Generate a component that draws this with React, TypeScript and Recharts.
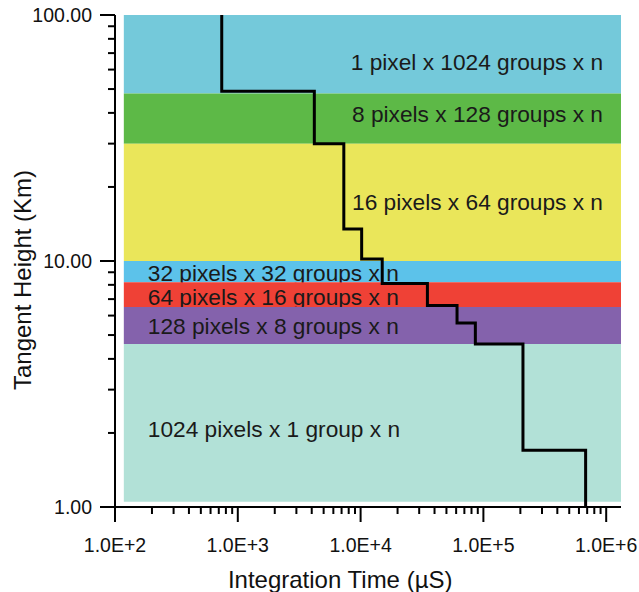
import { LineChart, Line, XAxis, YAxis, ReferenceArea } from 'recharts';

const FONT = '"Liberation Sans", Arial, Helvetica, sans-serif';

// step curve: integration time (µs) needed down to each tangent height (km)
const stepTime = [740, 4200, 7300, 10200, 15000, 35000, 61000, 86000, 210000, 680000, 680000];
const stepHeight = [100, 49, 30, 13.5, 10.2, 8.1, 6.6, 5.6, 4.6, 1.7, 1];

// readout modes and the tangent height band each one covers
const modeLabels = [
  '1 pixel x 1024 groups x n',
  '8 pixels x 128 groups x n',
  '16 pixels x 64 groups x n',
  '32 pixels x 32 groups x n',
  '64 pixels x 16 groups x n',
  '128 pixels x 8 groups x n',
  '1024 pixels x 1 group x n',
];
const modeTop = [100, 48, 30, 10, 8.2, 6.5, 4.6];
const modeBottom = [48, 30, 10, 8.2, 6.5, 4.6, 1.05];
const bandStart = 118;

const xMajorTicks = [1e2, 1e3, 1e4, 1e5, 1e6];
const yMajorTicks = [1, 10, 100];

// styling
const modeColors = ['#74c9da', '#5db947', '#eae65a', '#5cc2ea', '#ef4136', '#8462ac', '#b2e1d7'];
const labelNudge = [8, -5, 0, 1, 2, 1, 6];
const RIGHT_LABELS = 3;
const X_END = 1.32e6;

const minorTicks = (majors: number[]) => {
  const out: number[] = [];
  majors.forEach((m, i) => {
    out.push(m);
    if (i < majors.length - 1) for (let k = 2; k <= 9; k++) out.push(m * k);
  });
  return out;
};

const xTicks = minorTicks(xMajorTicks);
const yTicks = minorTicks(yMajorTicks);

const data = stepTime.map((t, i) => ({ t, h: stepHeight[i] }));

const XTick = (props: any) => {
  const { x, y, payload } = props;
  const major = xMajorTicks.includes(payload.value);
  return (
    <g>
      <line x1={x} x2={x} y1={y} y2={y + (major ? 15 : 7)} stroke="#000" strokeWidth={2} />
      {major && (
        <text x={x} y={y + 38} textAnchor="middle" dominantBaseline="central" fontSize={19.5} fontFamily={FONT} fill="#111">
          {`1.0E+${Math.round(Math.log10(payload.value))}`}
        </text>
      )}
    </g>
  );
};

const YTick = (props: any) => {
  const { x, y, payload } = props;
  const major = yMajorTicks.includes(payload.value);
  return (
    <g>
      <line x1={x - (major ? 15 : 7)} x2={x} y1={y} y2={y} stroke="#000" strokeWidth={2} />
      {major && (
        <text x={x - 23} y={y} textAnchor="end" dominantBaseline="central" fontSize={19.5} fontFamily={FONT} fill="#111">
          {payload.value.toFixed(2)}
        </text>
      )}
    </g>
  );
};

const bandLabel = (i: number) => (props: any) => {
  const { x, y, width, height } = props.viewBox;
  const right = i < RIGHT_LABELS;
  return (
    <text
      x={right ? x + width - 18 : x + 24}
      y={y + height / 2 + labelNudge[i]}
      textAnchor={right ? 'end' : 'start'}
      dominantBaseline="central"
      fontSize={22.7}
      fontFamily={FONT}
      fill="#1a1a1a"
    >
      {modeLabels[i]}
    </text>
  );
};

export default function App() {
  return (
    <div style={{ position: 'absolute', left: 0, top: 0 }}>
      <LineChart width={639} height={592} data={data} margin={{ top: 15, right: 18, left: 0, bottom: 0 }}>
        {modeLabels.map((_, i) => (
          <ReferenceArea
            key={i}
            x1={bandStart}
            x2={X_END}
            y1={modeBottom[i]}
            y2={modeTop[i]}
            fill={modeColors[i]}
            fillOpacity={1}
            stroke="none"
            label={bandLabel(i)}
          />
        ))}
        <XAxis
          dataKey="t"
          type="number"
          scale="log"
          domain={[100, X_END]}
          allowDataOverflow
          ticks={xTicks}
          interval={0}
          tick={<XTick />}
          tickLine={false}
          tickSize={0}
          tickMargin={0}
          height={85}
          axisLine={{ stroke: '#000', strokeWidth: 2 }}
          label={(p: any) => (
            <text
              x={p.viewBox.x + p.viewBox.width * 0.445}
              y={p.viewBox.y + 72}
              textAnchor="middle"
              dominantBaseline="central"
              fontSize={24}
              fontFamily={FONT}
              fill="#111"
            >
              Integration Time (µS)
            </text>
          )}
        />
        <YAxis
          type="number"
          scale="log"
          domain={[1, 100]}
          allowDataOverflow
          ticks={yTicks}
          interval={0}
          tick={<YTick />}
          tickLine={false}
          tickSize={0}
          tickMargin={0}
          width={115}
          axisLine={{ stroke: '#000', strokeWidth: 2 }}
          label={(p: any) => {
            const cx = p.viewBox.x + 22;
            const cy = p.viewBox.y + p.viewBox.height / 2 + 19;
            return (
              <text
                x={cx}
                y={cy}
                transform={`rotate(-90 ${cx} ${cy})`}
                textAnchor="middle"
                dominantBaseline="central"
                fontSize={24}
                fontFamily={FONT}
                fill="#111"
              >
                Tangent Height (Km)
              </text>
            );
          }}
        />
        <Line
          dataKey="h"
          type="stepBefore"
          stroke="#000"
          strokeWidth={3}
          dot={false}
          isAnimationActive={false}
        />
      </LineChart>
    </div>
  );
}
